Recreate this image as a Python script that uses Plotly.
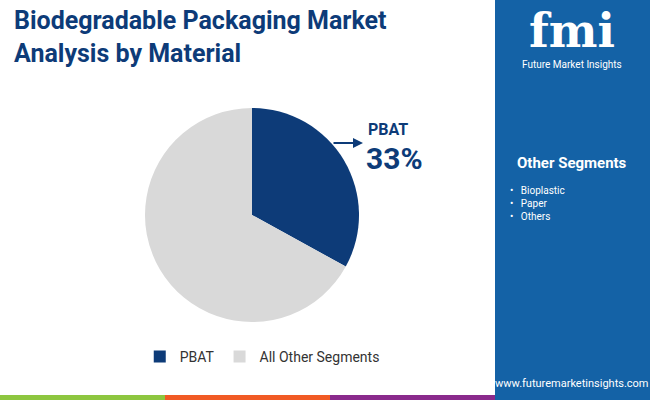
import plotly.graph_objects as go

labels = ["PBAT", "All Other Segments"]
values = [33, 67]
colors = ["#0d3b78", "#d9d9d9"]
other_segments = ["Bioplastic", "Paper", "Others"]

W, H = 650, 400
fig = go.Figure(go.Pie(labels=labels, values=values, marker=dict(colors=colors),
                       sort=False, direction="clockwise", rotation=0,
                       textinfo="none", hoverinfo="label+percent",
                       domain=dict(x=[145 / W, 359 / W], y=[78 / H, 292 / H])))

fig.update_layout(
    width=W, height=H, margin=dict(l=0, r=0, t=0, b=0),
    paper_bgcolor="white", font=dict(family="Roboto", color="#333"),
    showlegend=True,
    legend=dict(orientation="h", x=0.215, y=1 - 357 / H, xanchor="left", yanchor="middle",
                font=dict(size=14, color="#333"), itemsizing="constant"),
)

shapes = [
    dict(type="rect", xref="paper", yref="paper", x0=495 / W, x1=1, y0=0, y1=1,
         fillcolor="#1462a6", line_width=0, layer="below"),
    dict(type="rect", xref="paper", yref="paper", x0=0, x1=165 / W, y0=0, y1=5 / H,
         fillcolor="#8dc63f", line_width=0),
    dict(type="rect", xref="paper", yref="paper", x0=165 / W, x1=330 / W, y0=0, y1=5 / H,
         fillcolor="#f15a24", line_width=0),
    dict(type="rect", xref="paper", yref="paper", x0=330 / W, x1=495 / W, y0=0, y1=5 / H,
         fillcolor="#8a2a8c", line_width=0),
]
fig.update_layout(shapes=shapes)

ann = [
    dict(text="<b>Biodegradable Packaging Market<br>Analysis by Material</b>", x=12 / W, y=1 - 4 / H,
         xanchor="left", yanchor="top", align="left", showarrow=False,
         font=dict(size=25, color="#0d3b78")),
    dict(text="<b>fmi</b>", x=572 / W, y=1 - 2 / H, xanchor="center", yanchor="top",
         showarrow=False, font=dict(size=46, color="white", family="DejaVu Serif")),
    dict(text="Future Market Insights", x=572 / W, y=1 - 57 / H, xanchor="center", yanchor="top",
         showarrow=False, font=dict(size=10, color="white")),
    dict(text="<b>Other Segments</b>", x=572 / W, y=1 - 163 / H, xanchor="center", yanchor="middle",
         showarrow=False, font=dict(size=15, color="white")),
    dict(text="<br>".join("•   " + s for s in other_segments), x=508 / W, y=1 - 183 / H,
         xanchor="left", yanchor="top", align="left", showarrow=False,
         font=dict(size=10, color="white")),
    dict(text="www.futuremarketinsights.com", x=572 / W, y=1 - 383 / H, xanchor="center",
         yanchor="middle", showarrow=False, font=dict(size=11, color="white")),
    dict(text="", x=363 / W, y=1 - 143 / H, ax=-31, ay=0, xref="paper", yref="paper",
         showarrow=True, arrowhead=2, arrowsize=1, arrowwidth=2, arrowcolor="#0d3b78"),
    dict(text="<b>PBAT</b>", x=366 / W, y=1 - 129 / H, xanchor="left", yanchor="middle",
         showarrow=False, font=dict(size=16, color="#0d3b78")),
    dict(text="<b>33%</b>", x=364 / W, y=1 - 158 / H, xanchor="left", yanchor="middle",
         showarrow=False, font=dict(size=30, color="#0d3b78")),
]
fig.update_layout(annotations=ann)

fig.write_html("out.html", config=dict(displayModeBar=False),
               post_script="document.body.style.margin='0';document.body.style.overflow='hidden';")
